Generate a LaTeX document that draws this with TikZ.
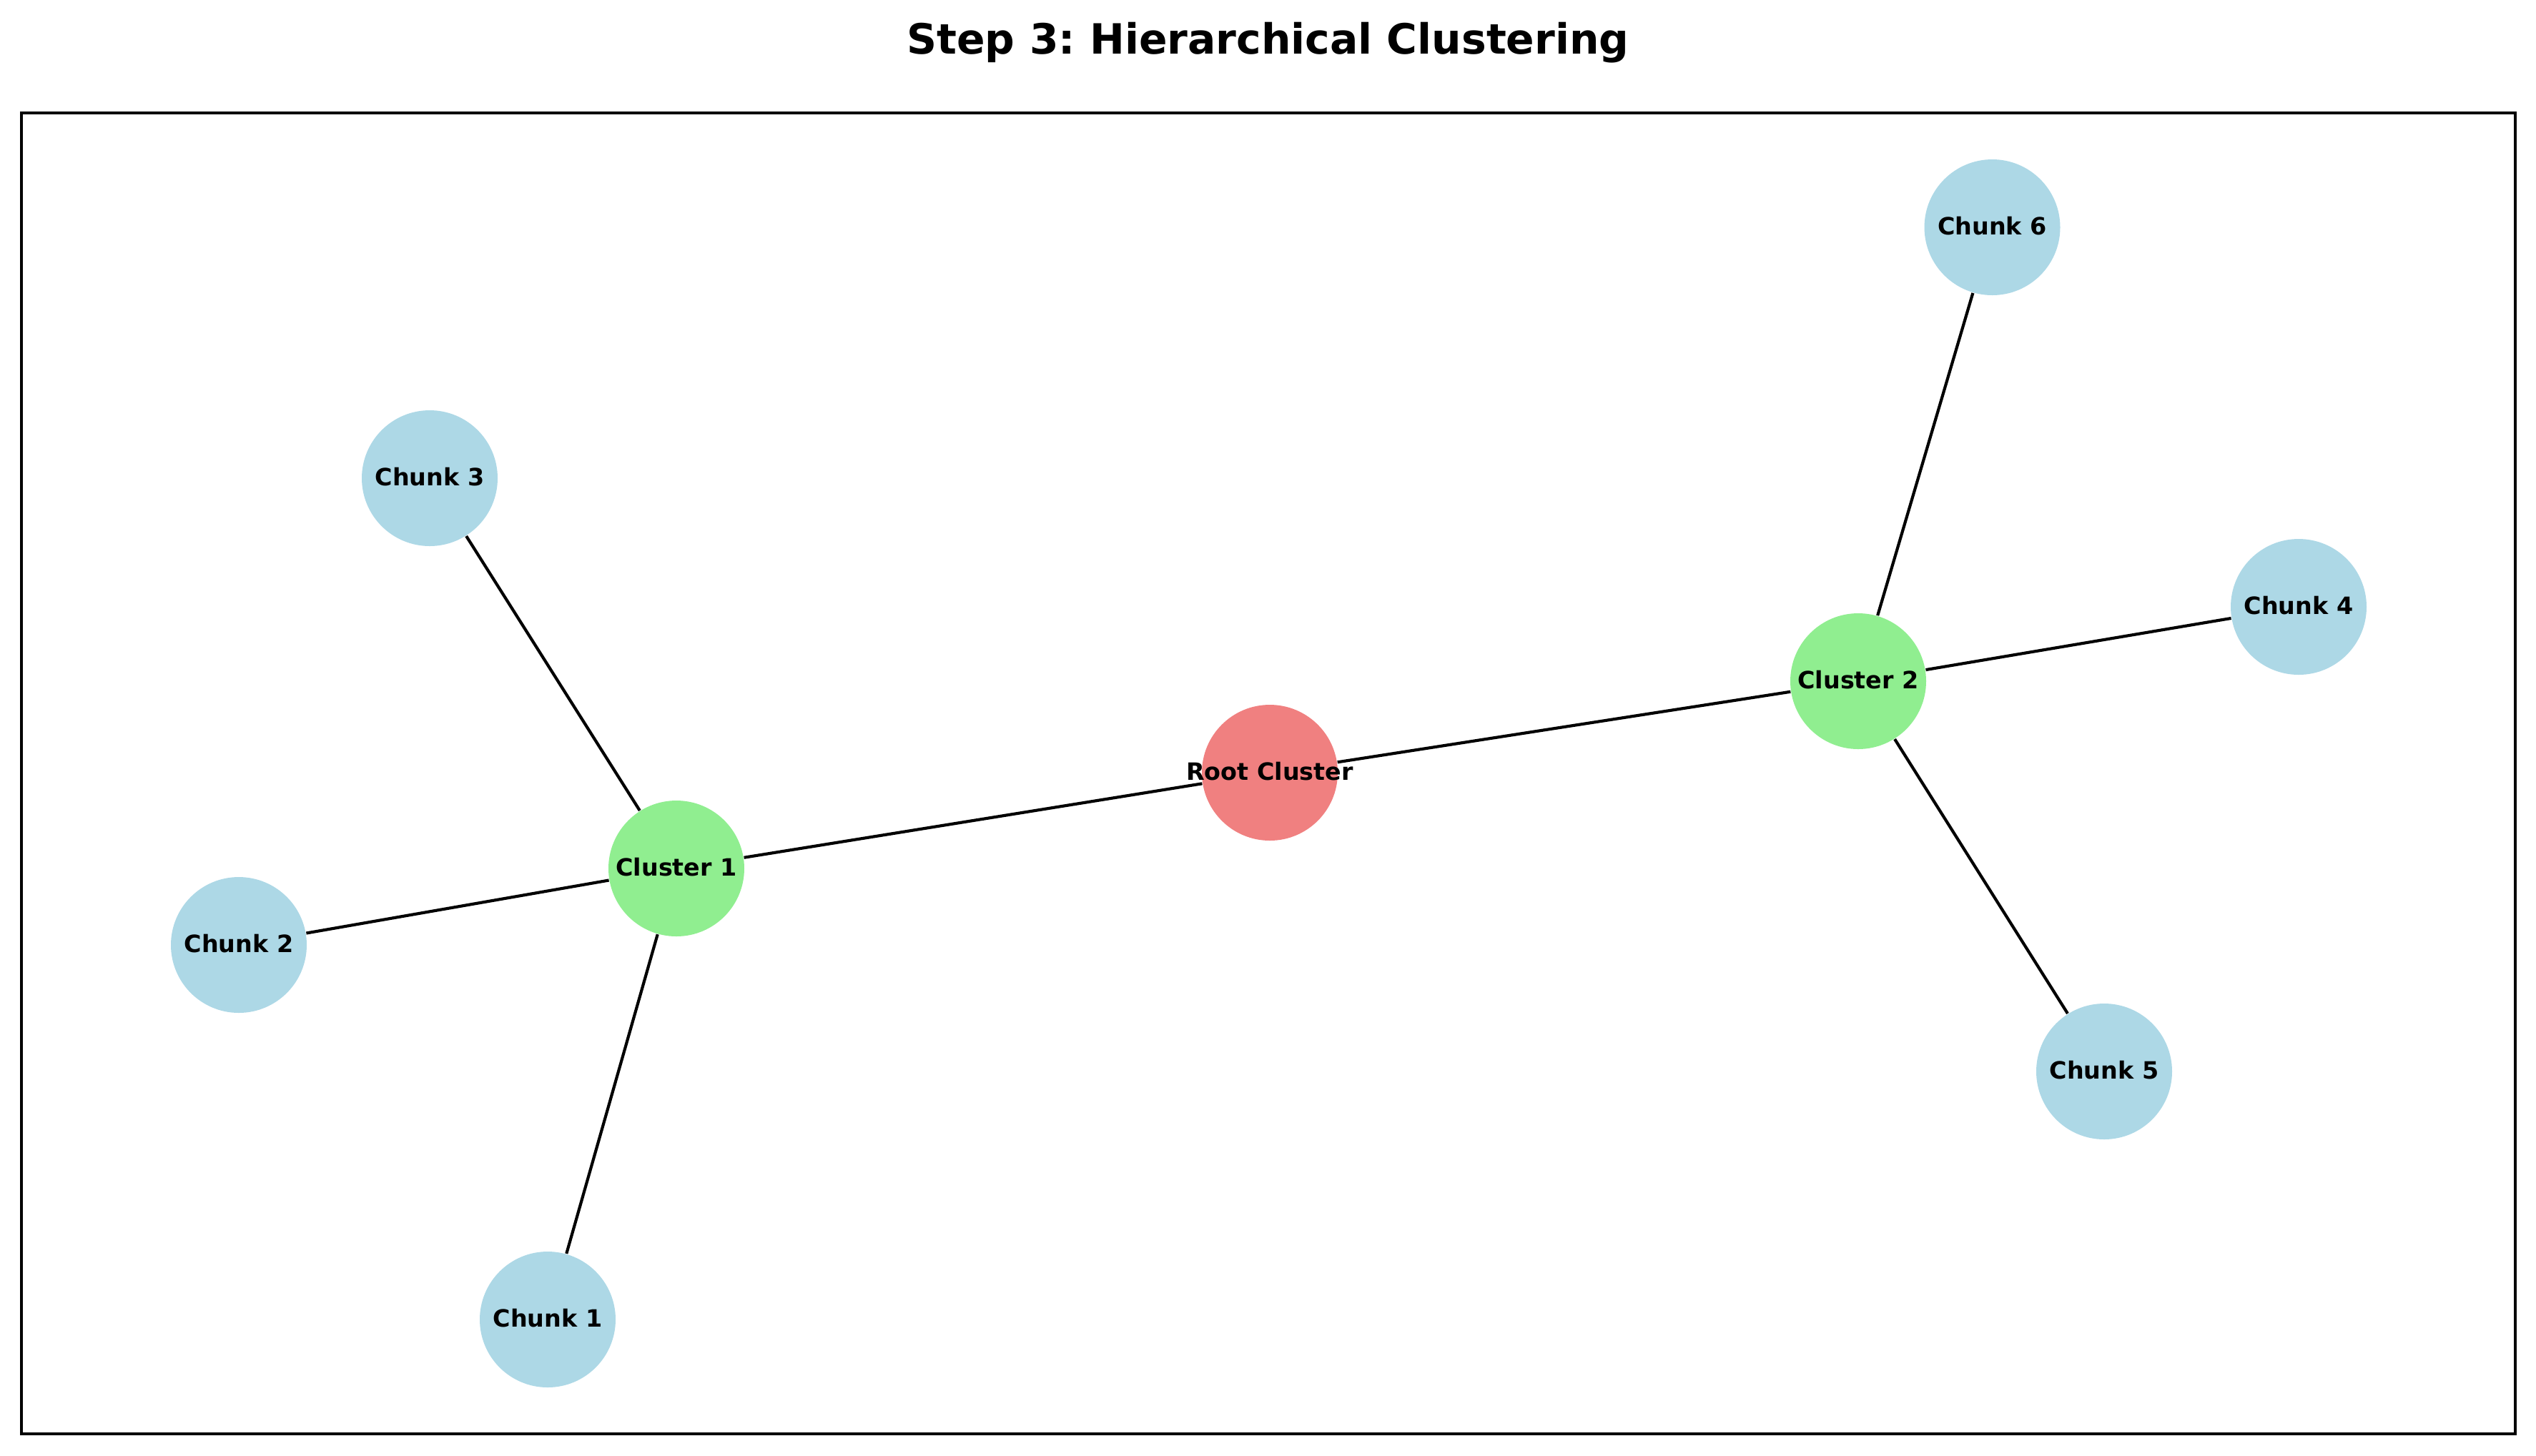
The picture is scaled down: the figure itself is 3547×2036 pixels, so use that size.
\documentclass[tikz,border=0pt]{standalone}
\usepackage{fontspec}
\setmainfont{DejaVu Sans}
\frenchspacing
\definecolor{lcoral}{HTML}{F08080}
\definecolor{lgreen}{HTML}{90EE90}
\definecolor{lblue}{HTML}{ADD8E6}
\begin{document}
\begin{tikzpicture}[x=0.24pt,y=-0.24pt,
  dot/.style={circle,inner sep=0pt,minimum size=45.6pt,draw=none},
  rootdot/.style={dot,fill=lcoral},
  clusterdot/.style={dot,fill=lgreen},
  chunkdot/.style={dot,fill=lblue},
  lbl/.style={inner sep=0pt,yshift=0.5pt,font=\fontsize{8}{9.6}\selectfont\bfseries,text=black},
  link/.style={draw=black,line width=1pt},
  frame/.style={draw=black,line width=0.8pt}]
\useasboundingbox (0,0) rectangle (3547,2036);
\path[frame] (30,158) rectangle (3518,2006);
\node[anchor=base,inner sep=0pt,font=\fontsize{14}{16.8}\selectfont\bfseries] (title) at (1773.5,75) {Step 3: Hierarchical Clustering};
% nodes
\node[rootdot] (root) at (1776,1081) {};
\node[clusterdot] (c1) at (946,1215) {};
\node[clusterdot] (c2) at (2599,953) {};
\node[chunkdot] (k1) at (766,1846) {};
\node[chunkdot] (k2) at (334,1322) {};
\node[chunkdot] (k3) at (601,669) {};
\node[chunkdot] (k4) at (3215,849) {};
\node[chunkdot] (k5) at (2943,1499) {};
\node[chunkdot] (k6) at (2786.5,318) {};
% edges
\draw[link] (root) -- (c1);
\draw[link] (root) -- (c2);
\draw[link] (c1) -- (k1);
\draw[link] (c1) -- (k2);
\draw[link] (c1) -- (k3);
\draw[link] (c2) -- (k4);
\draw[link] (c2) -- (k5);
\draw[link] (c2) -- (k6);
% labels
\node[lbl] (rootl) at (root) {Root Cluster};
\node[lbl] (c1l) at (c1) {Cluster 1};
\node[lbl] (c2l) at (c2) {Cluster 2};
\node[lbl] (k1l) at (k1) {Chunk 1};
\node[lbl] (k2l) at (k2) {Chunk 2};
\node[lbl] (k3l) at (k3) {Chunk 3};
\node[lbl] (k4l) at (k4) {Chunk 4};
\node[lbl] (k5l) at (k5) {Chunk 5};
\node[lbl] (k6l) at (k6) {Chunk 6};
\end{tikzpicture}
\end{document}
